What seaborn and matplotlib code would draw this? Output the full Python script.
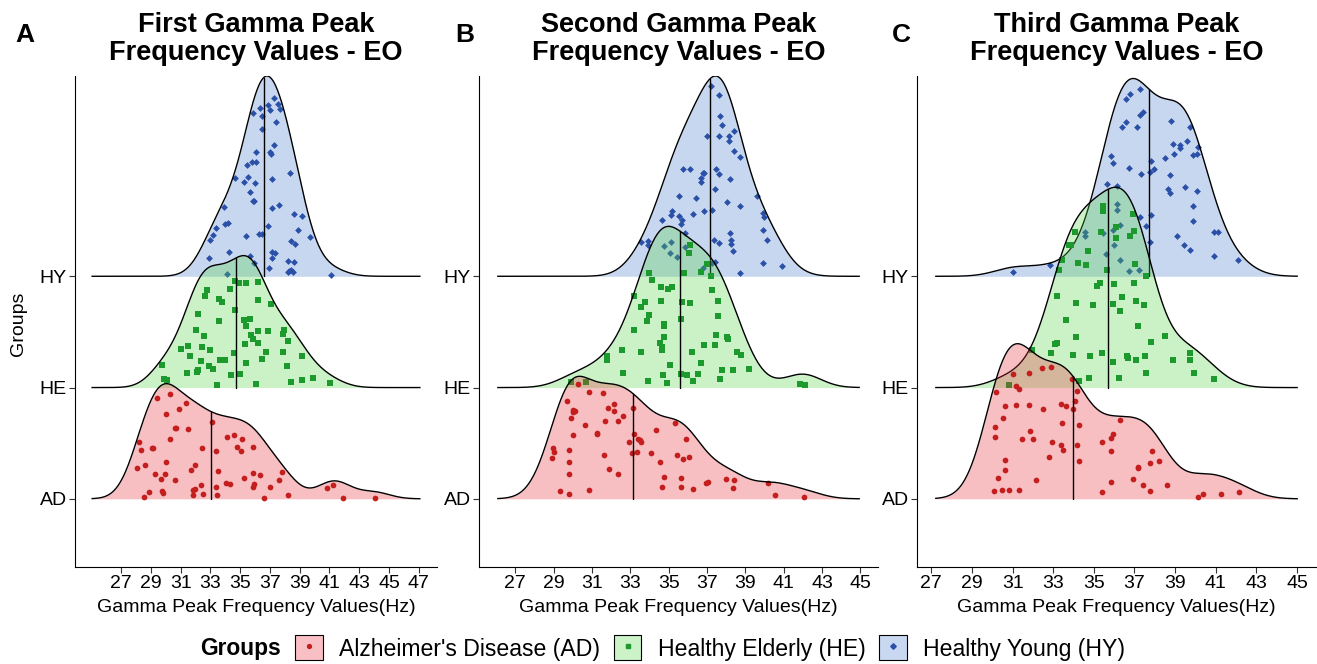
import numpy as np
import pandas as pd
import matplotlib
matplotlib.use("Agg")
import matplotlib.pyplot as plt
import matplotlib.colors as mcolors
from matplotlib.patches import Patch
from matplotlib.lines import Line2D
import seaborn as sns

sns.set_theme(style="ticks")
plt.rcParams['font.family'] = ['Liberation Sans', 'DejaVu Sans']
plt.rcParams['text.color'] = 'black'
plt.rcParams['axes.labelcolor'] = 'black'

# ---------------- data ----------------
groups = ["AD", "HE", "HY"]
group_names = ["Alzheimer's Disease (AD)", "Healthy Elderly (HE)", "Healthy Young (HY)"]
panel_letters = ["A", "B", "C"]
panel_titles = [["First Gamma Peak", "Frequency Values - EO"],
                ["Second Gamma Peak", "Frequency Values - EO"],
                ["Third Gamma Peak", "Frequency Values - EO"]]
panel_ticks = [list(range(27, 48, 2)), list(range(27, 46, 2)), list(range(27, 46, 2))]
x_label = "Gamma Peak Frequency Values(Hz)"
y_label = "Groups"
legend_title = "Groups"

# medians (quantile lines), order AD, HE, HY
a_medians = [33.03, 34.71, 36.57]
b_medians = [33.14, 35.61, 37.14]
c_medians = [33.95, 35.68, 37.71]

# Panel A
a_ad_hz = [30.26,29.39,31.36,30.9,30.03,33.07,30.59,30.68,31.52,30.26,28.22,28.33,29.06,29.15,32.45,34.09,34.57,35.15,34.77,35.02,35.86,33.38,28.09,28.62,30.03,31.94,31.72,29.26,29.95,29.68,30.59,33.51,35.22,35.86,36.3,37.83,37.61,34.02,34.29,35.93,35.88,36.99,28.88,29.75,29.81,31.94,31.85,32.38,32.51,31.81,28.53,33.4,33.47,36.63,38.21,40.84,41.26,41.88,44.03]
a_ad_h = [0.94,0.91,0.86,0.81,0.76,0.69,0.64,0.64,0.63,0.54,0.51,0.44,0.46,0.46,0.46,0.56,0.57,0.54,0.47,0.43,0.47,0.43,0.28,0.30,0.33,0.30,0.26,0.22,0.22,0.18,0.17,0.25,0.19,0.23,0.21,0.24,0.17,0.14,0.13,0.13,0.11,0.11,0.06,0.07,0.05,0.09,0.08,0.12,0.04,0.03,0.02,0.11,0.03,0.01,0.03,0.10,0.12,0.01,0.01]
a_he_hz = [34.64,34.93,35.42,36.21,32.74,34.29,32.65,33.58,33.8,36.21,37.06,34.62,32.16,33.58,35.22,35.64,35.42,32.01,36.21,36.9,37.96,37.9,35.7,32.54,35.88,38.18,36.21,35.35,31.03,31.52,32.43,32.94,36.7,37.9,31.61,34.57,33.64,34.0,36.44,39.18,32.36,35.42,29.75,32.87,33.14,38.16,32.16,32.07,31.45,35.0,34.35,29.88,30.1,39.89,39.18,38.41,41.04,33.45,36.06]
a_he_h = [0.96,0.94,0.94,0.95,0.88,0.89,0.82,0.80,0.77,0.79,0.75,0.70,0.66,0.60,0.61,0.62,0.55,0.52,0.51,0.51,0.52,0.48,0.47,0.46,0.44,0.42,0.40,0.39,0.35,0.37,0.36,0.34,0.32,0.32,0.28,0.31,0.25,0.25,0.26,0.28,0.24,0.22,0.20,0.19,0.17,0.19,0.16,0.14,0.13,0.12,0.11,0.08,0.07,0.09,0.07,0.05,0.04,0.02,0.03]
a_hy_hz = [37.25,37.54,36.86,36.35,36.99,37.68,35.84,36.48,37.41,36.48,37.25,36.06,36.99,37.06,36.08,35.77,35.44,34.64,35.55,37.14,35.22,35.99,38.34,35.64,35.86,35.95,37.63,33.93,37.12,38.61,39.18,34.18,34.0,36.86,33.36,38.89,33.2,36.28,36.44,35.42,39.67,33.0,38.41,38.67,34.22,37.12,37.34,35.64,37.12,32.87,38.18,35.93,38.63,38.41,38.3,36.92,38.18,38.58,41.11,34.09]
a_hy_h = [1.60,1.55,1.54,1.51,1.49,1.50,1.47,1.44,1.39,1.32,1.18,1.12,1.12,1.10,1.03,1.03,1.00,0.88,0.89,0.87,0.85,0.84,0.93,0.76,0.68,0.68,0.64,0.62,0.61,0.56,0.54,0.48,0.47,0.45,0.43,0.42,0.37,0.38,0.38,0.36,0.35,0.33,0.32,0.29,0.22,0.22,0.21,0.18,0.16,0.16,0.14,0.12,0.13,0.06,0.05,0.07,0.04,0.04,0.01,0.02]

# Panel B
b_ad_hz = [30.27,30.84,31.56,29.7,31.83,32.13,29.99,30.13,29.99,32.13,33.12,29.9,31.7,32.34,32.63,30.62,31.26,31.26,29.99,33.21,32.93,33.42,33.5,33.57,34.34,35.35,35.92,28.98,29.0,29.83,28.9,29.83,31.64,33.07,33.35,34.06,35.42,35.77,36.06,31.9,32.34,29.83,34.57,34.76,35.63,37.99,38.43,37.05,36.93,34.63,35.63,36.27,38.36,40.2,29.35,29.83,30.84,40.55,42.04]
b_ad_h = [1.03,0.96,0.95,0.88,0.82,0.85,0.80,0.79,0.78,0.79,0.82,0.73,0.70,0.70,0.74,0.66,0.59,0.58,0.57,0.58,0.51,0.54,0.53,0.51,0.62,0.69,0.54,0.46,0.42,0.44,0.37,0.33,0.39,0.41,0.42,0.41,0.39,0.36,0.38,0.27,0.22,0.22,0.33,0.20,0.19,0.18,0.17,0.15,0.14,0.11,0.11,0.09,0.10,0.15,0.07,0.04,0.08,0.03,0.02]
b_he_hz = [36.11,36.04,37.0,36.7,35.8,37.19,33.99,34.13,37.28,34.62,34.98,35.19,33.21,33.75,34.62,35.71,36.13,37.56,33.57,33.99,33.89,35.63,37.56,33.19,34.77,34.77,34.77,34.55,34.63,34.63,37.49,38.04,38.11,36.84,37.42,32.57,33.56,36.2,38.55,38.77,31.78,31.78,36.7,35.05,37.77,38.34,39.19,32.62,34.69,35.63,35.97,36.55,36.27,37.7,33.92,34.91,41.85,42.13,29.92,30.7]
b_he_h = [1.30,1.21,1.11,1.04,1.03,1.00,1.03,0.97,0.88,0.90,0.89,0.90,0.83,0.77,0.78,0.77,0.76,0.78,0.72,0.65,0.60,0.62,0.64,0.52,0.57,0.55,0.45,0.40,0.36,0.34,0.47,0.45,0.44,0.38,0.38,0.34,0.32,0.32,0.32,0.29,0.28,0.25,0.22,0.20,0.16,0.16,0.17,0.13,0.11,0.12,0.11,0.12,0.06,0.08,0.06,0.04,0.03,0.02,0.05,0.05]
b_hy_hz = [37.19,37.63,37.7,37.77,38.43,36.98,37.63,38.13,38.13,38.43,38.7,35.77,36.13,36.77,36.84,37.49,37.63,36.7,36.69,38.2,37.43,35.56,36.41,39.61,38.06,38.7,37.26,36.84,35.19,35.14,35.56,36.27,35.7,34.63,35.63,39.92,39.99,35.83,39.92,38.2,40.11,33.56,33.92,33.92,37.35,37.63,38.25,38.27,38.34,35.14,34.76,35.85,35.05,35.42,37.26,37.4,36.77,39.92,40.91,38.7]
b_hy_h = [1.72,1.63,1.44,1.36,1.31,1.26,1.26,1.26,1.22,1.13,1.07,0.96,0.96,0.93,0.93,0.96,0.92,0.88,0.85,0.87,0.78,0.72,0.70,0.72,0.67,0.63,0.60,0.59,0.59,0.55,0.54,0.56,0.51,0.51,0.47,0.57,0.53,0.39,0.42,0.39,0.33,0.31,0.32,0.28,0.33,0.30,0.33,0.29,0.23,0.31,0.27,0.26,0.21,0.17,0.12,0.13,0.07,0.12,0.09,0.03]

# Panel C
c_ad_hz = [31.04,31.8,32.44,32.87,33.9,31.17,31.32,30.19,34.18,34.05,33.98,33.36,33.62,32.5,31.8,31.17,30.61,30.55,30.12,30.12,31.86,31.45,32.01,33.42,34.26,32.93,33.36,33.49,34.18,32.78,34.26,30.61,30.61,30.27,32.16,30.06,30.47,30.83,31.3,35.38,35.86,35.94,35.86,36.28,35.38,35.86,37.15,37.15,37.84,38.19,37.76,36.92,37.42,37.76,38.6,40.14,40.36,41.26,42.17]
c_ad_h = [1.12,1.13,1.18,1.22,1.11,1.01,0.99,0.96,0.97,0.88,0.81,0.85,0.83,0.81,0.84,0.84,0.83,0.73,0.65,0.56,0.61,0.54,0.54,0.68,0.66,0.51,0.48,0.44,0.48,0.38,0.34,0.35,0.26,0.19,0.17,0.07,0.08,0.08,0.08,0.51,0.55,0.58,0.43,0.71,0.06,0.15,0.29,0.28,0.43,0.34,0.32,0.18,0.12,0.07,0.12,0.02,0.04,0.04,0.06]
c_he_hz = [35.46,35.46,36.91,34.05,35.33,36.07,36.76,36.99,36.09,33.77,33.88,34.69,33.41,34.2,34.61,37.01,33.28,35.66,37.57,35.31,36.0,36.99,35.17,33.19,36.37,37.07,34.11,34.95,35.94,37.48,36.3,33.62,37.19,34.11,38.52,37.83,33.19,33.1,32.87,33.97,34.82,35.38,36.63,36.69,37.07,37.5,35.94,38.9,39.72,39.72,31.96,34.28,34.77,36.22,37.55,39.93,40.9,30.81]
c_he_h = [1.63,1.59,1.56,1.40,1.40,1.44,1.36,1.41,1.34,1.28,1.28,1.23,1.20,1.12,1.10,1.11,1.06,1.06,1.00,0.94,0.93,0.94,0.91,0.82,0.81,0.78,0.76,0.74,0.75,0.74,0.69,0.61,0.55,0.45,0.46,0.41,0.40,0.39,0.31,0.29,0.28,0.31,0.28,0.27,0.25,0.28,0.23,0.25,0.31,0.25,0.34,0.06,0.09,0.09,0.13,0.13,0.08,0.02]
c_hy_hz = [37.27,36.78,36.58,37.4,37.25,36.58,36.37,37.14,38.81,39.72,38.9,39.22,39.22,39.59,40.14,39.87,40.08,38.52,38.95,35.86,35.94,36.71,37.81,37.76,37.98,37.34,38.75,35.66,36.15,38.67,38.73,39.5,40.08,39.87,39.87,37.25,37.83,37.55,39.09,40.9,41.13,37.76,39.44,39.72,40.9,42.12,31.04,32.83,36.15,36.15,34.54,34.54,35.45,36.28,35.94,36.0,35.59,36.28,36.71,37.2]
c_hy_h = [1.72,1.64,1.59,1.48,1.45,1.39,1.34,1.34,1.40,1.34,1.19,1.18,1.15,1.22,1.17,1.09,1.10,1.06,1.10,1.08,1.02,0.97,1.04,0.94,0.96,0.92,0.91,0.83,0.81,0.78,0.75,0.80,0.77,0.63,0.50,0.53,0.55,0.45,0.36,0.40,0.40,0.31,0.28,0.24,0.18,0.15,0.04,0.10,0.65,0.60,0.40,0.36,0.39,0.46,0.42,0.28,0.20,0.15,0.05,0.06]

panel_data = [
    {"AD": (a_ad_hz, a_ad_h), "HE": (a_he_hz, a_he_h), "HY": (a_hy_hz, a_hy_h)},
    {"AD": (b_ad_hz, b_ad_h), "HE": (b_he_hz, b_he_h), "HY": (b_hy_hz, b_hy_h)},
    {"AD": (c_ad_hz, c_ad_h), "HE": (c_he_hz, c_he_h), "HY": (c_hy_hz, c_hy_h)},
]
panel_medians = [a_medians, b_medians, c_medians]

# ---------------- style ----------------
FILL = {"AD": "#E82D3A", "HE": "#55D448", "HY": "#487DCD"}
POINT = {"AD": "#C41E1E", "HE": "#1C9A2E", "HY": "#2A50A8"}
MARKER = {"AD": "o", "HE": "s", "HY": "D"}
MSIZE = {"AD": 17, "HE": 13, "HY": 12}
FILL_ALPHA = 0.3
RIDGE_SCALE = 1.8

W, H = 1317, 664
fig = plt.figure(figsize=(W / 100, H / 100), dpi=100)
ax_px = [(75, 437), (479, 878), (917, 1316)]
top_px, bot_px = 76, 566.7


def bw_nrd0(x):
    x = np.asarray(x, float)
    hi = np.std(x, ddof=1)
    iqr = np.subtract(*np.percentile(x, [75, 25]))
    lo = min(hi, iqr / 1.34)
    if lo <= 0:
        lo = hi if hi > 0 else 1.0
    return 0.9 * lo * len(x) ** (-0.2)


def kde(x, grid, bw):
    x = np.asarray(x, float)[:, None]
    z = (grid[None, :] - x) / bw
    return np.exp(-0.5 * z ** 2).sum(0) / (len(x) * bw * np.sqrt(2 * np.pi))


def light(c, a=FILL_ALPHA):
    r = np.array(mcolors.to_rgb(c))
    return tuple(a * r + (1 - a) * 1.0)


for pi in range(3):
    l, r = ax_px[pi]
    ax = fig.add_axes([l / W, 1 - bot_px / H, (r - l) / W, (bot_px - top_px) / H])
    data = panel_data[pi]
    allx = np.concatenate([np.asarray(data[g][0]) for g in groups])
    bw = np.mean([bw_nrd0(data[g][0]) for g in groups])
    lo, hi = allx.min() - 3 * bw, allx.max() + 3 * bw
    grid = np.linspace(lo, hi, 512)
    dens = {g: kde(data[g][0], grid, bw) for g in groups}
    dmax = max(d.max() for d in dens.values())
    sc = RIDGE_SCALE / dmax

    # draw top group first, lower groups on top
    for k, g in reversed(list(enumerate(groups))):
        base = k + 1
        z = 10 + (2 - k) * 5
        hgt = dens[g] * sc
        ax.fill_between(grid, base, base + hgt, color=FILL[g], alpha=FILL_ALPHA,
                        linewidth=0, zorder=z)
        xs = np.asarray(data[g][0], float)
        hs = np.asarray(data[g][1], float)
        ridge_at = np.interp(xs, grid, hgt)
        hs = np.minimum(hs, ridge_at * 0.96)
        df = pd.DataFrame({"hz": xs, "y": base + hs})
        sns.scatterplot(data=df, x="hz", y="y", ax=ax, marker=MARKER[g],
                        color=POINT[g], s=MSIZE[g], linewidth=0, legend=False,
                        zorder=z + 1)
        med = panel_medians[pi][k]
        ax.plot([med, med], [base, base + np.interp(med, grid, hgt)],
                color="black", lw=1.0, zorder=z + 2)
        ax.plot(grid, base + hgt, color="black", lw=1.0, zorder=z + 3,
                solid_capstyle="butt")

    pad = 0.05 * (hi - lo)
    ax.set_xlim(lo - pad, hi + pad)
    ax.set_ylim(0.39, 3 + RIDGE_SCALE)
    ax.set_xticks(panel_ticks[pi])
    ax.set_xticklabels([str(t) for t in panel_ticks[pi]])
    ax.set_yticks([1, 2, 3])
    ax.set_yticklabels(groups)
    ax.set_xlabel("")
    ax.set_ylabel("")
    for s in ["top", "right"]:
        ax.spines[s].set_visible(False)
    for s in ["left", "bottom"]:
        ax.spines[s].set_color("black")
        ax.spines[s].set_linewidth(0.8)
    ax.tick_params(axis="both", direction="out", length=4, width=0.8,
                   color="#333333", labelsize=14, labelcolor="black", pad=2)
    ax.set_facecolor("white")

    cx = (l + r) / 2 / W
    fig.text(cx, 1 - 31.7 / H, panel_titles[pi][0], ha="center", va="baseline",
             fontsize=19.5, fontweight="bold")
    fig.text(cx, 1 - 60.5 / H, panel_titles[pi][1], ha="center", va="baseline",
             fontsize=19.5, fontweight="bold")
    fig.text(cx, 1 - 608 / H, x_label, ha="center", va="center", fontsize=14)

letter_x = [15, 455, 892]
for i, lt in enumerate(panel_letters):
    fig.text(letter_x[i] / W, 1 - 41.7 / H, lt, ha="left", va="baseline",
             fontsize=19, fontweight="bold")

fig.text(18 / W, 1 - 324 / H, y_label, rotation=90, ha="center", va="center",
         fontsize=14)

# legend
handles = []
for g in groups:
    handles.append((Patch(facecolor=light(FILL[g]), edgecolor="black", linewidth=0.8),
                    Line2D([], [], marker=MARKER[g], color=POINT[g], ls="", markersize=2.8)))
leg = fig.legend(handles, group_names, loc="center", ncol=3,
                 bbox_to_anchor=(710 / W, 1 - 648 / H), frameon=False,
                 fontsize=16.6, handlelength=1.2, handleheight=1.3,
                 handletextpad=0.7, columnspacing=0.6, borderpad=0)
fig.text(200 / W, 1 - 648 / H, legend_title, ha="left", va="center",
         fontsize=16.4, fontweight="bold")

fig.savefig("out.png", dpi=100, facecolor="white")
